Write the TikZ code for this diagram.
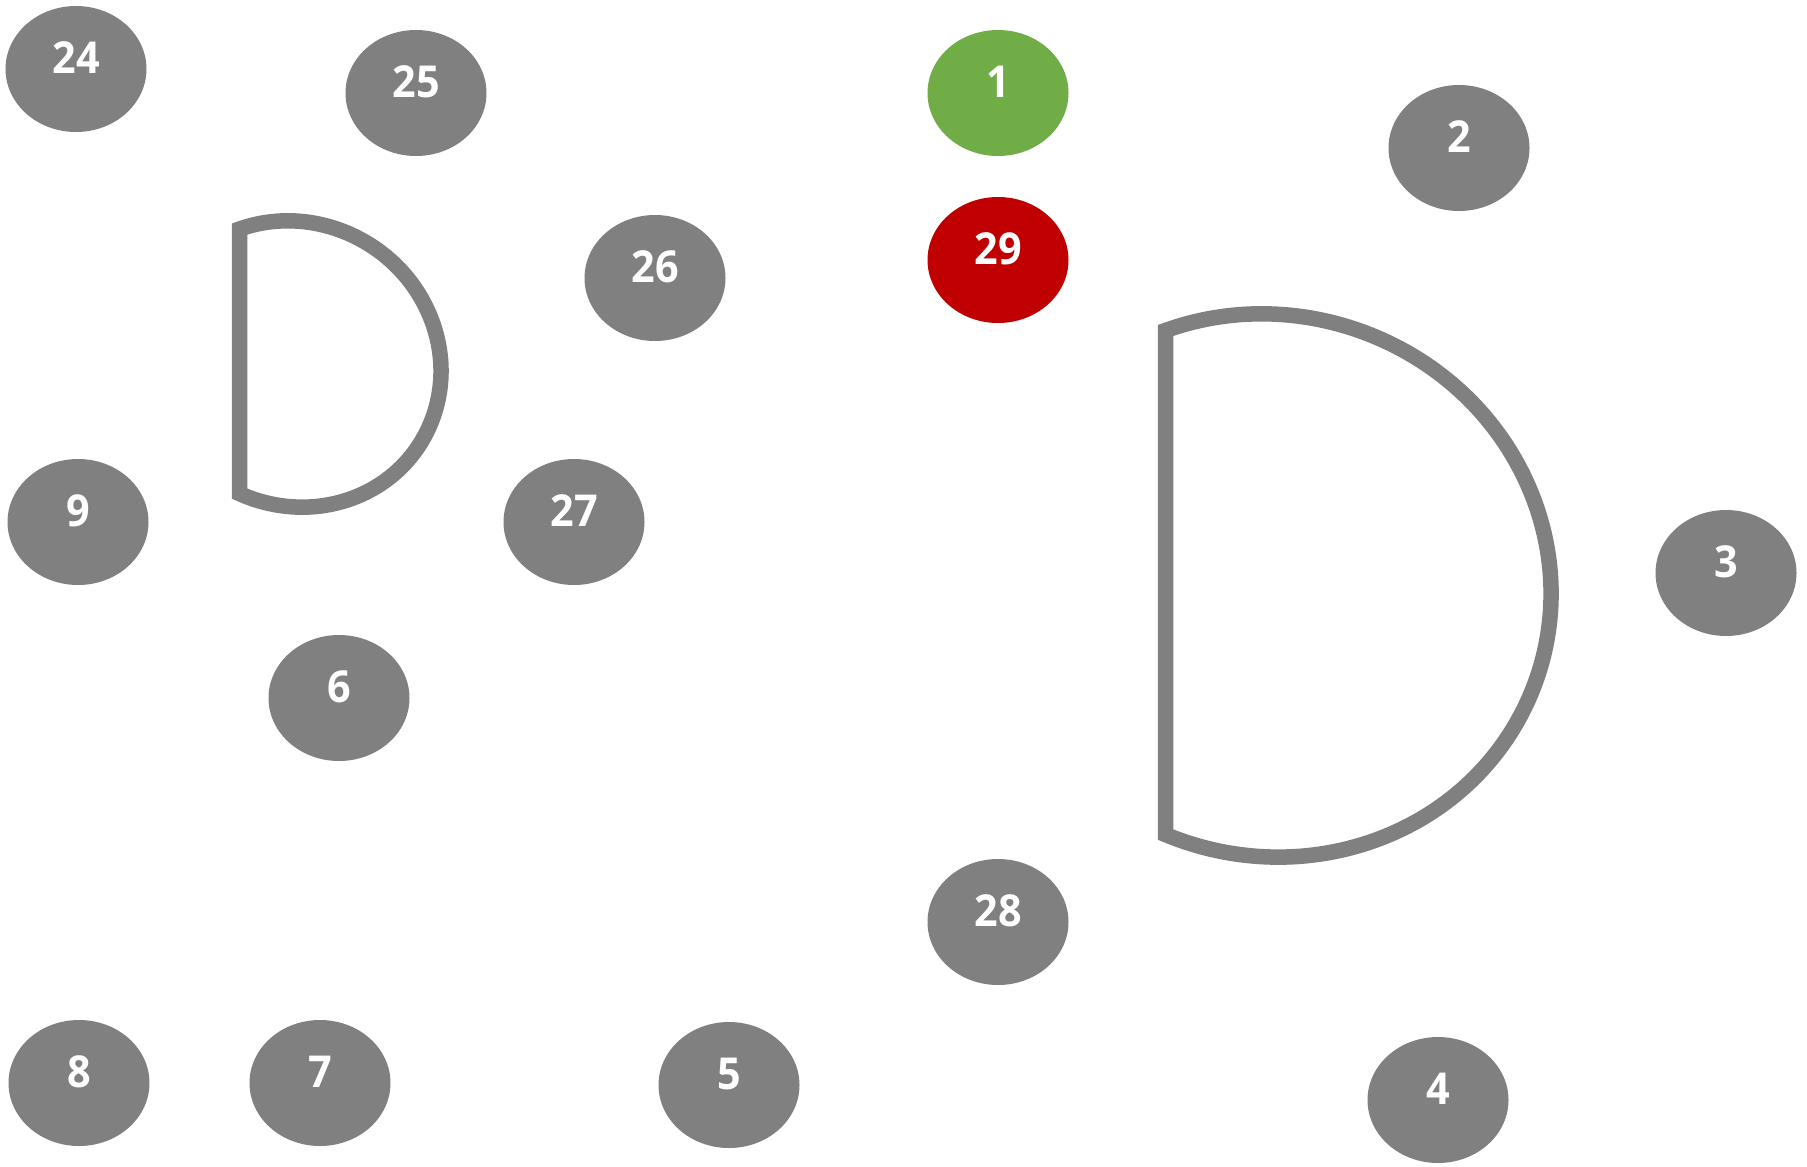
\documentclass[tikz,border=0pt]{standalone}
\usepackage{fontspec}
\setmainfont{Open Sans}
\newfontfamily\numfont{Open Sans}[FakeStretch=0.94]
\usetikzlibrary{shapes.geometric}
\definecolor{dotgray}{RGB}{128,128,128}
\definecolor{dotgreen}{RGB}{112,173,71}
\definecolor{dotred}{RGB}{192,0,0}
\tikzset{
  seat/.style={ellipse, fill=dotgray, draw=none, minimum width=141pt, minimum height=126pt, inner sep=0pt},
  seatnum/.style={text=white, font=\numfont\bfseries\fontsize{44}{46}\selectfont, inner sep=0pt},
  tableline/.style={draw=dotgray, line width=15.5pt, line join=miter, fill=white}
}
\begin{document}
\begin{tikzpicture}[x=1pt,y=-1pt]
\useasboundingbox[fill=white] (0,0) rectangle (1807,1167);
% tables (sheared ellipse segments)
\begin{scope}[shift={(295,364)}, cm={1,-0.048,0,1,(0,0)}]
  \draw[tableline] (0,0) ++(-112.3:146 and 143) arc[start angle=-112.3, end angle=112.3, x radius=146, y radius=143] -- cycle;
\end{scope}
\begin{scope}[shift={(1270,585.5)}, cm={1,-0.0286,0,1,(0,0)}]
  \draw[tableline] (0,0) ++(-111.8:281 and 271.5) arc[start angle=-111.8, end angle=111.8, x radius=281, y radius=271.5] -- cycle;
\end{scope}
% seats
\foreach \n/\x/\y/\c in {24/76/69/dotgray, 25/416/93/dotgray, 1/998/93/dotgreen, 2/1459/148/dotgray,
  29/998/260/dotred, 26/655/278/dotgray, 9/78/522/dotgray, 27/574/522/dotgray, 3/1726/573/dotgray,
  6/339/698/dotgray, 28/998/922/dotgray, 8/79/1083/dotgray, 7/320/1083/dotgray, 5/729/1085/dotgray,
  4/1438/1100/dotgray}{
  \node[seat, fill=\c] (s\n) at (\x,\y) {};
  \node[seatnum] (t\n) at ([yshift=11.5pt]s\n.center) {\n};
}
\end{tikzpicture}
\end{document}
